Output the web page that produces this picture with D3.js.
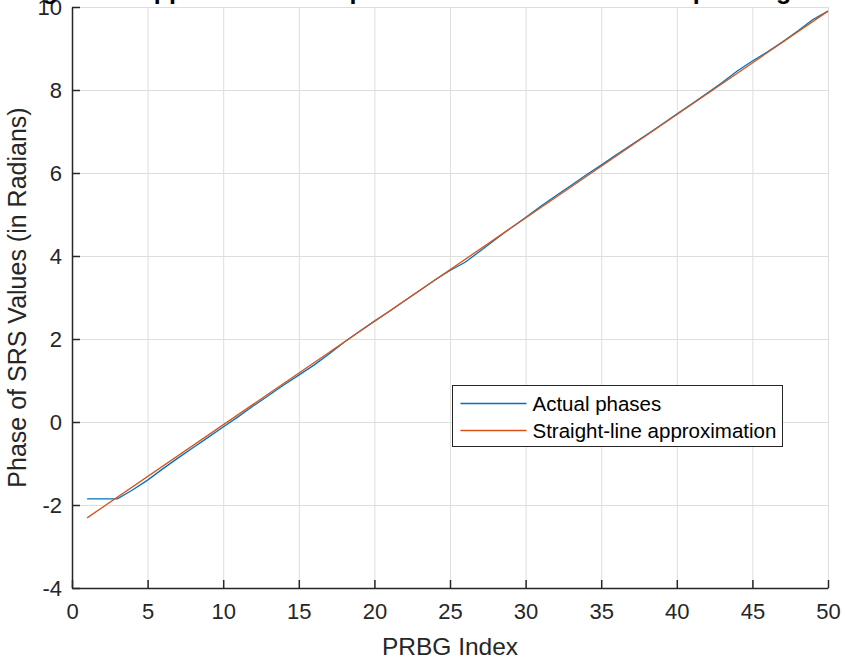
<!DOCTYPE html>
<html>
<head>
<meta charset="utf-8">
<script src="https://cdn.jsdelivr.net/npm/d3@7"></script>
<style>
  html, body { margin: 0; padding: 0; background: #fff; }
  svg { display: block; font-family: "Liberation Sans", Arial, Helvetica, sans-serif; }
</style>
</head>
<body>
<svg id="chart" width="845" height="666"></svg>
<script>
// PRBG index and the measured SRS phase (radians)
const prbgIndex = [1,2,3,4,5,6,7,8,9,10,11,12,13,14,15,16,17,18,19,20,21,22,23,24,25,
                   26,27,28,29,30,31,32,33,34,35,36,37,38,39,40,41,42,43,44,45,46,47,48,49,50];
const actualPhase = [-1.85,-1.85,-1.85,-1.64,-1.40,-1.13,-0.87,-0.62,-0.37,-0.12,
                     0.13,0.39,0.64,0.89,1.13,1.37,1.64,1.92,2.18,2.43,
                     2.67,2.92,3.17,3.42,3.65,3.85,4.12,4.40,4.67,4.93,
                     5.20,5.45,5.70,5.95,6.19,6.44,6.68,6.92,7.17,7.42,
                     7.67,7.92,8.18,8.46,8.70,8.92,9.16,9.42,9.70,9.90];
// Straight-line fit, given by its end points
const fitIndex = [1, 50];
const fitPhase = [-2.31, 9.90];

const xTicks = [0,5,10,15,20,25,30,35,40,45,50];
const yTicks = [-4,-2,0,2,4,6,8,10];
const seriesNames = ["Actual phases", "Straight-line approximation"];
const seriesColors = ["#0072BD", "#D95319"];

const chartTitle = "Straight-line approximation of phases of SRS values corresponding to PRBG";
const xLabel = "PRBG Index";
const yLabel = "Phase of SRS Values (in Radians)";

const svg = d3.select("#chart");
const m = { left: 72, right: 17, top: 7, bottom: 78 };
const W = 845, H = 666;

const x = d3.scaleLinear().domain([0, 50]).range([m.left, W - m.right]);
const y = d3.scaleLinear().domain([-4, 10]).range([H - m.bottom, m.top]);

const axisColor = "#262626";
const gridColor = "#dedede";

// grid
const grid = svg.append("g");
grid.selectAll("line.gx").data(xTicks).join("line")
  .attr("x1", d => x(d) + 0.5).attr("x2", d => x(d) + 0.5)
  .attr("y1", y(-4)).attr("y2", y(10))
  .attr("stroke", gridColor).attr("stroke-width", 1);
grid.selectAll("line.gy").data(yTicks).join("line")
  .attr("y1", d => Math.round(y(d)) + 0.5).attr("y2", d => Math.round(y(d)) + 0.5)
  .attr("x1", x(0)).attr("x2", x(50))
  .attr("stroke", gridColor).attr("stroke-width", 1);

// data lines
const line = d3.line().x(d => x(d[0])).y(d => y(d[1]));
svg.append("path")
  .datum(prbgIndex.map((v, i) => [v, actualPhase[i]]))
  .attr("d", line).attr("fill", "none")
  .attr("stroke", seriesColors[0]).attr("stroke-width", 1.3);
svg.append("path")
  .datum(fitIndex.map((v, i) => [v, fitPhase[i]]))
  .attr("d", line).attr("fill", "none")
  .attr("stroke", seriesColors[1]).attr("stroke-width", 1.3);

// axes (ticks point inward, plain hyphen for negatives)
const plain = d => String(d);
const xAxis = d3.axisBottom(x).tickValues(xTicks).tickFormat(plain)
  .tickSizeInner(-8).tickSizeOuter(0).tickPadding(18);
const yAxis = d3.axisLeft(y).tickValues(yTicks).tickFormat(plain)
  .tickSizeInner(-8).tickSizeOuter(0).tickPadding(18);

const gx = svg.append("g").attr("transform", `translate(0,${y(-4)})`).call(xAxis);
const gy = svg.append("g").attr("transform", `translate(${x(0)},0)`).call(yAxis);
[gx, gy].forEach(g => {
  g.select(".domain").attr("stroke", axisColor).attr("stroke-width", 1.5);
  g.selectAll(".tick line").attr("stroke", axisColor).attr("stroke-width", 1.5);
  g.selectAll(".tick text").attr("fill", axisColor)
    .attr("font-size", 22).attr("font-family", "Liberation Sans, Arial, sans-serif");
});
gx.selectAll(".tick text").attr("dy", "0.6em");
gy.selectAll(".tick text").attr("dx", "8").attr("dy", "0.35em");

// axis labels
svg.append("text")
  .attr("x", (x(0) + x(50)) / 2).attr("y", 655)
  .attr("text-anchor", "middle").attr("font-size", 24.5).attr("fill", axisColor)
  .text(xLabel);
svg.append("text")
  .attr("transform", `translate(26,${(y(-4) + y(10)) / 2}) rotate(-90)`)
  .attr("text-anchor", "middle").attr("font-size", 25).attr("fill", axisColor)
  .text(yLabel);

// title
svg.append("text")
  .attr("x", 444).attr("y", -1)
  .attr("text-anchor", "middle").attr("font-size", 25).attr("font-weight", "bold")
  .attr("fill", "#000")
  .text(chartTitle);

// legend
const lg = svg.append("g").attr("transform", "translate(452.5,385.5)");
lg.append("rect").attr("width", 330).attr("height", 61)
  .attr("fill", "#fff").attr("stroke", axisColor).attr("stroke-width", 1);
seriesNames.forEach((name, i) => {
  const cy = 18 + i * 27;
  lg.append("line").attr("x1", 8).attr("x2", 74).attr("y1", cy).attr("y2", cy)
    .attr("stroke", seriesColors[i]).attr("stroke-width", 1.3);
  lg.append("text").attr("x", 80).attr("y", cy).attr("dy", "0.35em")
    .attr("font-size", 20.5).attr("fill", "#000").text(name);
});
</script>
</body>
</html>
